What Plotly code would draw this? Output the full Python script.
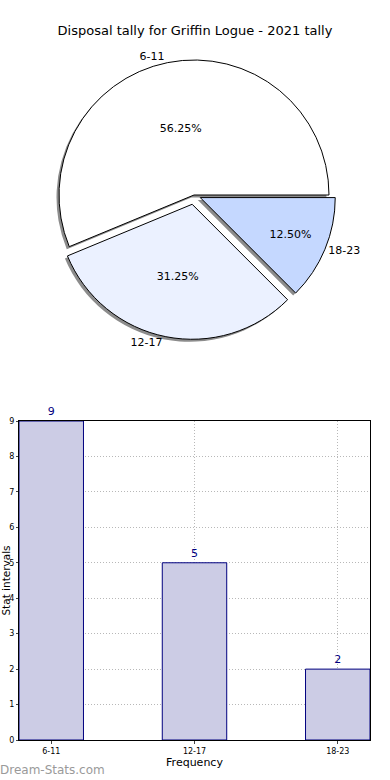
import plotly.graph_objects as go

categories = ["6-11", "12-17", "18-23"]
counts = [9, 5, 2]
pie_colors = ["#FFFFFF", "#EBF1FF", "#C5D8FF"]
title_text = "Disposal tally for Griffin Logue - 2021 tally"
x_title = "Frequency"
y_title = "Stat intervals"
watermark = "Dream-Stats.com"

W, H = 390, 780
FONT = "DejaVu Sans"

def px(x):
    return x / W

def py(y):
    return 1 - y / H

pull = [0.0, 0.07, 0.05]
cx, cy = 194, 195
r = 135 * (1 + max(pull))
ROT = -112.5
SH = 2.5

fig = go.Figure()

# shadow pie
fig.add_trace(go.Pie(
    labels=categories, values=counts, sort=False, direction="counterclockwise",
    rotation=ROT, pull=pull, textinfo="none", hoverinfo="skip",
    marker=dict(colors=["#8C8C8C"] * 3, line=dict(width=0)),
    domain=dict(x=[px(cx - r - SH), px(cx + r - SH)], y=[py(cy + r + SH), py(cy - r + SH)]),
    showlegend=False,
))
# main pie
fig.add_trace(go.Pie(
    labels=categories, values=counts, sort=False, direction="counterclockwise",
    rotation=ROT, pull=pull, texttemplate="%{percent:.2%}", textposition="inside",
    insidetextorientation="horizontal",
    textfont=dict(family=FONT, size=11, color="black"),
    marker=dict(colors=pie_colors, line=dict(color="black", width=1)),
    domain=dict(x=[px(cx - r), px(cx + r)], y=[py(cy + r), py(cy - r)]),
    showlegend=False,
))
# outside labels
fig.add_trace(go.Pie(
    labels=categories, values=counts, sort=False, direction="counterclockwise",
    rotation=ROT, pull=pull, textinfo="label", textposition="outside",
    textfont=dict(family=FONT, size=11, color="black"),
    marker=dict(colors=["rgba(0,0,0,0)"] * 3, line=dict(width=0)),
    domain=dict(x=[px(cx - r), px(cx + r)], y=[py(cy + r), py(cy - r)]),
    showlegend=False, hoverinfo="skip",
))

fig.add_trace(go.Bar(
    x=list(range(len(categories))), y=counts, width=0.45,
    marker=dict(color="#CCCCE5", line=dict(color="#00007F", width=1)),
    text=[str(c) for c in counts], textposition="outside", cliponaxis=False,
    textfont=dict(family=FONT, size=11, color="#00007F"),
    xaxis="x", yaxis="y", showlegend=False,
))

grid = dict(showgrid=True, gridcolor="#B8B8B8", griddash="1px,2px", gridwidth=1)

fig.update_layout(
    width=W, height=H, margin=dict(l=0, r=0, t=0, b=0),
    paper_bgcolor="white", plot_bgcolor="white",
    font=dict(family=FONT, color="black"),
    title=dict(text=title_text, x=0.5, xanchor="center", y=py(30), yanchor="middle",
               font=dict(family=FONT, size=13, color="black")),
    xaxis=dict(domain=[px(19), px(370)], range=[-0.225, 2.225],
               tickvals=list(range(len(categories))), ticktext=categories,
               tickfont=dict(size=8, family=FONT), ticks="outside", ticklen=3,
               showline=True, linecolor="black", linewidth=1, mirror=True,
               zeroline=False, automargin=False,
               title=dict(text=x_title, font=dict(size=11, family=FONT), standoff=2),
               **grid),
    yaxis=dict(domain=[py(740), py(421)], range=[0, 9], dtick=1,
               tickfont=dict(size=8, family=FONT), ticks="outside", ticklen=2,
               showline=True, linecolor="black", linewidth=1, mirror=True,
               zeroline=False, automargin=False,
               title=dict(text=y_title, font=dict(size=10.5, family=FONT), standoff=0),
               **grid),
    annotations=[dict(text=watermark, x=px(-2), y=py(770), xref="paper", yref="paper",
                      xanchor="left", yanchor="middle", showarrow=False,
                      font=dict(family=FONT, size=12, color="#9A9A9A"))],
)

fig.write_html("out.html", config={"displayModeBar": False},
               post_script="document.body.style.margin='0';document.body.style.overflow='hidden';")
